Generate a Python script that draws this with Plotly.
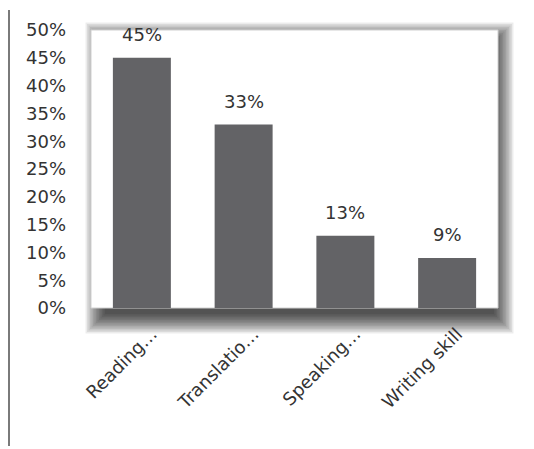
import plotly.graph_objects as go

categories = ["Reading…", "Translatio…", "Speaking…", "Writing skill"]
values = [45, 33, 13, 9]
value_labels = ["45%", "33%", "13%", "9%"]
y_ticks = [0, 5, 10, 15, 20, 25, 30, 35, 40, 45, 50]
y_tick_text = ["0%", "5%", "10%", "15%", "20%", "25%", "30%", "35%", "40%", "45%", "50%"]

# the page body adds an 8px margin, so the figure is sized to fit the window
OFF = 8
W, H = 534 - OFF, 449 - OFF
L, T = 91 - OFF, 30 - OFF
PW, PH = 407, 278
R, B = W - L - PW, H - T - PH

def px_x(px):
    # page pixel -> paper
    return (px - OFF - L) / PW

def px_y(py):
    return (T + PH - (py - OFF)) / PH

FONT = "DejaVu Sans"
TEXT = "#333333"

fig = go.Figure()
fig.add_trace(go.Bar(
    x=categories, y=values,
    marker=dict(color="#636366", line=dict(width=0)),
    hoverinfo="skip",
))

shapes = []
# blurred drop shadow (bottom-right offset), in page pixels
left, right, top, bottom = 91, 498, 30, 308
core = dict(x0=left + 14, x1=right - 4, y0=top + 12, y1=bottom + 6)
n = 14
for k in range(n):
    e = k * 1.5
    shapes.append(dict(
        type="rect", xref="paper", yref="paper", layer="below",
        x0=px_x(core["x0"] - e), x1=px_x(core["x1"] + e),
        y0=px_y(core["y1"] + e), y1=px_y(core["y0"] - e),
        fillcolor="rgba(0,0,0,0.075)", line=dict(width=0),
    ))
# white plot area
shapes.append(dict(
    type="rect", xref="paper", yref="paper", layer="below",
    x0=0, x1=1, y0=0, y1=1,
    fillcolor="white", line=dict(color="#d0d0d0", width=1),
))
# left vertical rule
shapes.append(dict(
    type="line", xref="paper", yref="paper", layer="above",
    x0=px_x(9), x1=px_x(9), y0=px_y(10), y1=px_y(446),
    line=dict(color="#7a7a7a", width=2),
))

annotations = []
for c, v, t in zip(categories, values, value_labels):
    annotations.append(dict(
        x=c, y=v, xref="x", yref="y", text=t, showarrow=False,
        yanchor="bottom", yshift=11,
        font=dict(family=FONT, size=18, color=TEXT),
    ))

fig.update_layout(
    width=W, height=H,
    margin=dict(l=L, r=R, t=T, b=B, pad=0),
    paper_bgcolor="white",
    plot_bgcolor="rgba(0,0,0,0)",
    bargap=0.43,
    showlegend=False,
    shapes=shapes,
    annotations=annotations,
    xaxis=dict(
        showgrid=False, showline=False, zeroline=False, ticks="",
        tickangle=-45, automargin=False,
        tickfont=dict(family=FONT, size=18, color=TEXT),
        ticklabelstandoff=11, ticklabelshift=10,
    ),
    yaxis=dict(
        range=[0, 50], tickvals=y_ticks, ticktext=y_tick_text,
        showgrid=False, showline=False, zeroline=False, ticks="",
        automargin=False,
        tickfont=dict(family=FONT, size=18, color=TEXT),
        ticklabelstandoff=24,
    ),
)

fig.write_html("out.html")
